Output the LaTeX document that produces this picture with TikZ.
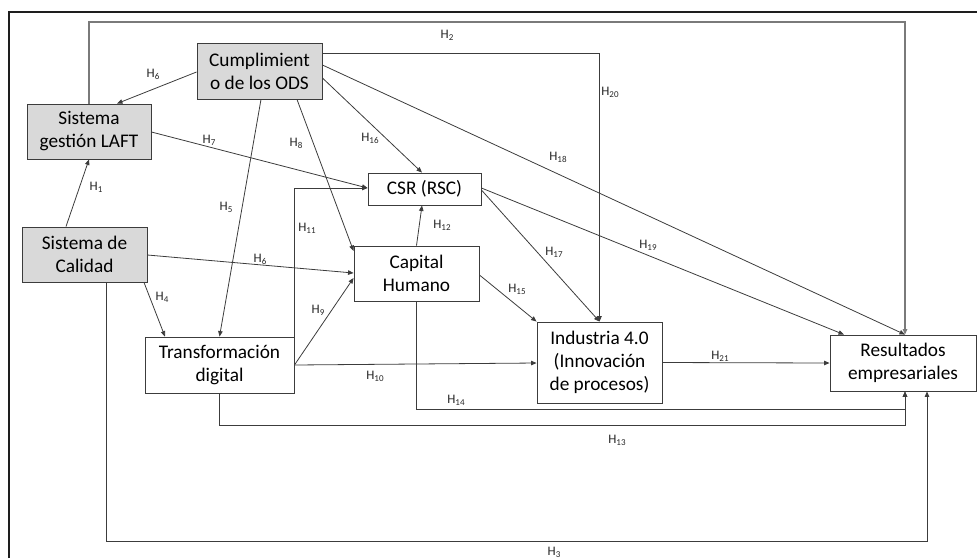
\documentclass[tikz,border=0pt]{standalone}
\usepackage{fontspec}
\setmainfont{Carlito}
\usetikzlibrary{arrows.meta}

\definecolor{boxgray}{HTML}{D9D9D9}
\definecolor{edge}{HTML}{3C3C3C}
\definecolor{frameline}{HTML}{1E1E1E}
\definecolor{longline}{HTML}{7A7A7A}

% hypothesis label: H with a lowered index
\newcommand{\hyp}[1]{H\raisebox{-0.28ex}{\fontsize{9}{9}\selectfont #1}}

\tikzset{
  construct/.style={draw=edge, line width=0.9pt, inner sep=0pt, align=center,
    font=\fontsize{19.3}{23}\selectfont},
  graybox/.style={construct, fill=boxgray},
  whitebox/.style={construct, fill=white},
  link/.style={draw=edge, line width=0.8pt,
    -{Triangle[length=5.5pt,width=4.5pt]}},
  hlabel/.style={inner sep=0pt, font=\fontsize{13}{13}\selectfont, text=black!85}
}

\begin{document}
\begin{tikzpicture}[x=1pt,y=-1pt]
\useasboundingbox (0,0) rectangle (977,558);

% outer frame
\draw[frameline, line width=2pt] (9,558) -- (9,12) -- (977,12);

% constructs
\node[graybox, minimum width=125pt, minimum height=56pt] (ods) at (259.5,71) {Cumplimient\\o de los ODS};
\node[graybox, minimum width=124pt, minimum height=55pt] (laft) at (89,131.5) {Sistema\\gestión LAFT};
\node[graybox, minimum width=125pt, minimum height=55pt] (cal) at (84.5,254.5) {Sistema de\\Calidad};
\node[whitebox, minimum width=149pt, minimum height=56pt] (tdig) at (219.5,365) {Transformación\\digital};
\node[whitebox, minimum width=113pt, minimum height=32pt] (csr) at (424.5,189) {CSR (RSC)};
\node[whitebox, minimum width=125pt, minimum height=55pt] (chum) at (416.5,273.5) {Capital\\Humano};
\node[whitebox, minimum width=125pt, minimum height=81pt] (ind) at (599.5,362.5) {Industria 4.0\\(Innovación\\de procesos)};
\node[whitebox, minimum width=146pt, minimum height=56pt] (res) at (903,363) {Resultados\\empresariales};

% H2: long path over the top
\draw[link, draw=longline, line width=1.3pt] (laft.north) |- (905,22) -- (905,0 |- res.north);

% paths out of Cumplimiento de los ODS
\draw[link] (ods.east |- 0,53) -| (ind.north);
\draw[link] (ods.east |- 0,65) -- (905,0 |- res.north);
\draw[link] (ods.east |- 0,78) -- (422,0 |- csr.north);
\draw[link] (ods.west |- 0,72) -- (117,0 |- laft.north);
\draw[link] (297,0 |- ods.south) -- (chum.west |- 0,251);
\draw[link] (261,0 |- ods.south) -- (tdig.north);

% paths out of the two management systems
\draw[link] (laft.east |- 0,132) -- (csr.west |- 0,188);
\draw[link] (66,0 |- cal.north) -- (laft.south);
\draw[link] (cal.east |- 0,255) -- (chum.west |- 0,273);
\draw[link] (144,0 |- cal.south) -- (165,0 |- tdig.north);
\draw[link] (106,0 |- cal.south) -- (106,541) -| (927,0 |- res.south);

% paths out of Transformación digital
\draw[link] (tdig.north east) |- (csr.west |- 0,188);
\draw[link] (tdig.east) -- (chum.west |- 0,278);
\draw[link] (tdig.east) -- (ind.west |- 0,363);
\draw[link] (tdig.south) -- (219.5,425) -| (905,0 |- res.south);

% paths out of Capital Humano and CSR
\draw[link] (chum.north) -- (422,0 |- csr.south);
\draw[link] (chum.east |- 0,275) -- (ind.north west);
\draw[link] (chum.south) -- (416.5,409) -| (905,0 |- res.south);
\draw[link] (csr.east |- 0,190) -- (ind.north);
\draw[link] (csr.east |- 0,188) -- (844,0 |- res.north);

% Industria 4.0 to results
\draw[link] (ind.east) -- (res.west);

% hypothesis labels
\node[hlabel] (l1)  at (96,187)  {\hyp{1}};
\node[hlabel] (l2)  at (447,35)  {\hyp{2}};
\node[hlabel] (l3)  at (554,552) {\hyp{3}};
\node[hlabel] (l4)  at (162,297) {\hyp{4}};
\node[hlabel] (l5)  at (226,207) {\hyp{5}};
\node[hlabel] (l6a) at (153,74)  {\hyp{6}};
\node[hlabel] (l6b) at (260,259) {\hyp{6}};
\node[hlabel] (l7)  at (209,140) {\hyp{7}};
\node[hlabel] (l8)  at (296,143) {\hyp{8}};
\node[hlabel] (l9)  at (318,310) {\hyp{9}};
\node[hlabel] (l10) at (375,376) {\hyp{10}};
\node[hlabel] (l11) at (307,228) {\hyp{11}};
\node[hlabel] (l12) at (442,225) {\hyp{12}};
\node[hlabel] (l13) at (617,440) {\hyp{13}};
\node[hlabel] (l14) at (456,400) {\hyp{14}};
\node[hlabel] (l15) at (517,289) {\hyp{15}};
\node[hlabel] (l16) at (370,138) {\hyp{16}};
\node[hlabel] (l17) at (554,252) {\hyp{17}};
\node[hlabel] (l18) at (558,157) {\hyp{18}};
\node[hlabel] (l19) at (648,245) {\hyp{19}};
\node[hlabel] (l20) at (610,92)  {\hyp{20}};
\node[hlabel] (l21) at (720,356) {\hyp{21}};
\end{tikzpicture}
\end{document}
